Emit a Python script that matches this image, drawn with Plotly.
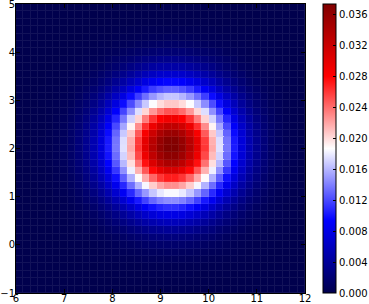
import numpy as np
import plotly.graph_objects as go

# cell edges of the 39 x 39 mesh
x_edges = np.linspace(6, 12, 40)
y_edges = np.linspace(-1, 5, 40)

# density values (units of 1e-4), rows from y=-1 (bottom) to y=5 (top)
density_e4 = [
    [0,0,0,0,0,0,0,0,0,0,0,0,0,0,0,0,0,0,0,0,0,0,0,0,0,0,0,0,0,0,0,0,0,0,0,0,0,0,0],
    [0,0,0,0,0,0,0,0,0,0,0,0,0,0,0,1,1,1,1,1,1,1,1,1,1,1,1,0,0,0,0,0,0,0,0,0,0,0,0],
    [0,0,0,0,0,0,0,0,0,0,0,0,0,1,1,1,1,1,2,2,2,2,2,2,1,1,1,1,1,0,0,0,0,0,0,0,0,0,0],
    [0,0,0,0,0,0,0,0,0,0,0,1,1,1,2,2,2,3,3,3,3,3,3,3,3,2,2,2,1,1,1,0,0,0,0,0,0,0,0],
    [0,0,0,0,0,0,0,0,0,1,1,1,2,2,3,3,4,5,5,6,6,6,6,5,5,4,3,3,2,2,1,1,1,0,0,0,0,0,0],
    [0,0,0,0,0,0,0,0,1,1,1,2,3,4,5,6,7,8,9,9,10,10,9,9,8,7,6,5,4,3,2,1,1,1,0,0,0,0,0],
    [0,0,0,0,0,0,0,1,1,1,2,3,4,6,8,9,11,13,14,15,16,16,15,14,13,11,9,8,6,4,3,2,1,1,1,0,0,0,0],
    [0,0,0,0,0,0,1,1,2,2,4,5,7,9,12,15,18,20,23,24,25,25,24,23,20,18,15,12,9,7,5,4,2,2,1,1,0,0,0],
    [0,0,0,0,0,1,1,1,2,4,5,8,11,14,18,23,27,31,35,37,39,39,37,35,31,27,23,18,14,11,8,5,4,2,1,1,1,0,0],
    [0,0,0,0,0,1,1,2,3,5,8,11,16,21,27,33,40,46,51,55,57,57,55,51,46,40,33,27,21,16,11,8,5,3,2,1,1,0,0],
    [0,0,0,0,1,1,2,3,5,8,11,16,22,29,38,47,56,65,72,78,80,80,78,72,65,56,47,38,29,22,16,11,8,5,3,2,1,1,0],
    [0,0,0,0,1,1,3,4,7,10,15,22,30,40,52,64,77,89,99,106,110,110,106,99,89,77,64,52,40,30,22,15,10,7,4,3,1,1,0],
    [0,0,0,1,1,2,3,6,9,14,20,29,40,53,69,85,102,117,131,140,145,145,140,131,117,102,85,69,53,40,29,20,14,9,6,3,2,1,1],
    [0,0,0,1,1,3,4,7,11,17,26,37,51,68,87,108,130,149,166,179,185,185,179,166,149,130,108,87,68,51,37,26,17,11,7,4,3,1,1],
    [0,0,0,1,2,3,5,9,14,21,32,45,63,84,107,133,159,184,205,220,228,228,220,205,184,159,133,107,84,63,45,32,21,14,9,5,3,2,1],
    [0,0,1,1,2,4,6,10,16,25,38,54,74,99,127,158,189,218,243,261,270,270,261,243,218,189,158,127,99,74,54,38,25,16,10,6,4,2,1],
    [0,0,1,1,2,4,7,12,19,29,43,62,85,113,146,181,216,249,278,298,309,309,298,278,249,216,181,146,113,85,62,43,29,19,12,7,4,2,1],
    [0,0,1,1,3,5,8,13,21,32,48,68,94,125,161,199,239,275,307,330,342,342,330,307,275,239,199,161,125,94,68,48,32,21,13,8,5,3,1],
    [0,0,1,2,3,5,8,14,22,34,51,72,100,133,171,212,254,293,327,351,364,364,351,327,293,254,212,171,133,100,72,51,34,22,14,8,5,3,2],
    [0,0,1,2,3,5,9,14,23,35,52,74,103,137,176,218,261,301,336,361,374,374,361,336,301,261,218,176,137,103,74,52,35,23,14,9,5,3,2],
    [0,0,1,2,3,5,9,14,23,35,52,74,102,136,175,216,259,299,333,358,371,371,358,333,299,259,216,175,136,102,74,52,35,23,14,9,5,3,2],
    [0,0,1,1,3,5,8,14,22,33,49,71,97,130,167,207,248,286,318,342,355,355,342,318,286,248,207,167,130,97,71,49,33,22,14,8,5,3,1],
    [0,0,1,1,2,4,8,13,20,31,46,65,90,120,154,191,229,264,294,316,327,327,316,294,264,229,191,154,120,90,65,46,31,20,13,8,4,2,1],
    [0,0,1,1,2,4,7,11,18,27,41,58,80,107,137,170,203,235,262,281,291,291,281,262,235,203,170,137,107,80,58,41,27,18,11,7,4,2,1],
    [0,0,1,1,2,3,6,10,15,23,35,50,69,92,118,146,175,202,225,241,250,250,241,225,202,175,146,118,92,69,50,35,23,15,10,6,3,2,1],
    [0,0,0,1,2,3,5,8,13,19,29,41,57,76,98,121,145,167,186,200,207,207,200,186,167,145,121,98,76,57,41,29,19,13,8,5,3,2,1],
    [0,0,0,1,1,2,4,6,10,16,23,33,46,61,78,97,116,134,149,160,166,166,160,149,134,116,97,78,61,46,33,23,16,10,6,4,2,1,1],
    [0,0,0,1,1,2,3,5,8,12,18,25,35,47,60,75,89,103,115,123,128,128,123,115,103,89,75,60,47,35,25,18,12,8,5,3,2,1,1],
    [0,0,0,0,1,1,2,4,6,9,13,19,26,35,45,56,66,77,85,92,95,95,92,85,77,66,56,45,35,26,19,13,9,6,4,2,1,1,0],
    [0,0,0,0,1,1,2,3,4,6,10,14,19,25,32,40,48,55,61,66,68,68,66,61,55,48,40,32,25,19,14,9,6,4,3,2,1,1,0],
    [0,0,0,0,0,1,1,2,3,4,7,9,13,17,22,28,33,38,43,46,47,47,46,42,38,33,28,22,17,13,9,7,4,3,2,1,1,0,0],
    [0,0,0,0,0,0,1,1,2,3,4,6,9,12,15,18,22,26,28,31,32,32,30,28,25,22,18,15,12,9,6,4,3,2,1,1,0,0,0],
    [0,0,0,0,0,0,0,1,1,2,3,4,6,7,10,12,14,16,18,20,20,20,20,18,16,14,12,10,7,6,4,3,2,1,1,0,0,0,0],
    [0,0,0,0,0,0,0,0,1,1,2,3,3,5,6,7,9,10,11,12,13,13,12,11,10,9,7,6,5,3,3,2,1,1,0,0,0,0,0],
    [0,0,0,0,0,0,0,0,0,1,1,2,2,3,4,4,5,6,7,7,8,8,7,7,6,5,4,4,3,2,2,1,1,0,0,0,0,0,0],
    [0,0,0,0,0,0,0,0,0,0,1,1,1,2,2,3,3,4,4,4,4,4,4,4,4,3,3,2,2,1,1,1,0,0,0,0,0,0,0],
    [0,0,0,0,0,0,0,0,0,0,0,0,1,1,1,1,2,2,2,2,2,2,2,2,2,2,1,1,1,1,0,0,0,0,0,0,0,0,0],
    [0,0,0,0,0,0,0,0,0,0,0,0,0,0,1,1,1,1,1,1,1,1,1,1,1,1,1,1,0,0,0,0,0,0,0,0,0,0,0],
    [0,0,0,0,0,0,0,0,0,0,0,0,0,0,0,0,0,1,1,1,1,1,1,1,1,0,0,0,0,0,0,0,0,0,0,0,0,0,0],
]
assert len(density_e4) == 39 and all(len(r) == 39 for r in density_e4), [len(r) for r in density_e4]

x_ticks = [6, 7, 8, 9, 10, 11, 12]
y_ticks = [-1, 0, 1, 2, 3, 4, 5]
cbar_ticks = [0.000, 0.004, 0.008, 0.012, 0.016, 0.020, 0.024, 0.028, 0.032, 0.036]

Z = np.array(density_e4) / 10000.0
zmax = float(Z.max())

seismic = [[0, 'rgb(0,0,77)'], [0.25, 'rgb(0,0,255)'], [0.5, 'rgb(255,255,255)'],
           [0.75, 'rgb(255,0,0)'], [1, 'rgb(128,0,0)']]

fig = go.Figure()
# slightly lighter underlay -> faint seams between cells
fig.add_trace(go.Heatmap(z=Z, x=x_edges, y=y_edges, colorscale=seismic, zmin=0, zmax=zmax,
                         opacity=0.93, showscale=False, hoverinfo='skip'))
fig.add_trace(go.Heatmap(z=Z, x=x_edges, y=y_edges, colorscale=seismic, zmin=0, zmax=zmax,
                         xgap=1, ygap=1,
                         colorbar=dict(xref='container', x=323 / 369, xanchor='left',
                                       xpad=0, ypad=0,
                                       y=0.5, yanchor='middle', len=1, thickness=13,
                                       outlinecolor='black', outlinewidth=1,
                                       tickvals=cbar_ticks, tickformat='.3f',
                                       ticks='inside', ticklen=3, tickcolor='black',
                                       tickfont=dict(family='DejaVu Sans', size=10, color='black'))))
ax = dict(showgrid=False, zeroline=False, showline=True, linecolor='black', linewidth=1,
          mirror='allticks', ticks='inside', ticklen=4, tickcolor='black', automargin=False,
          ticklabeloverflow='allow',
          tickfont=dict(family='DejaVu Sans', size=10, color='black'))
fig.update_xaxes(range=[6, 12.0001], tickvals=x_ticks, ticklabelstandoff=-4, **ax)
fig.update_yaxes(range=[-1, 5.0001], tickvals=y_ticks, ticklabelstandoff=-2, **ax)
fig.update_layout(width=369, height=304,
                  margin=dict(l=16, r=64, t=4, b=11, autoexpand=False),
                  paper_bgcolor='white', plot_bgcolor='white', showlegend=False)
fig.write_html("out.html", config={'displayModeBar': False},
               post_script="document.body.style.margin='0px';")
